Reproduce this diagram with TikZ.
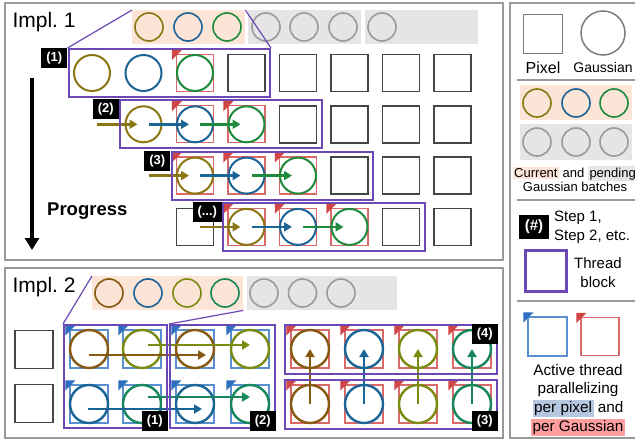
\documentclass[tikz,border=0pt]{standalone}
\usepackage{fontspec}
\setmainfont{Liberation Sans}
\usetikzlibrary{arrows.meta, positioning, fit}
\usepackage{xcolor}
\definecolor{oo}{HTML}{8A7714}
\definecolor{bb}{HTML}{1B6496}
\definecolor{gg}{HTML}{1E8B3C}
\definecolor{br}{HTML}{875A12}
\definecolor{ol}{HTML}{7B8B12}
\definecolor{tl}{HTML}{17865A}
\definecolor{pp}{HTML}{6C48B4}
\definecolor{rr}{HTML}{DA6A6A}
\definecolor{rf}{HTML}{D04545}
\definecolor{ll}{HTML}{5A8FCF}
\definecolor{lf}{HTML}{2E6FBF}
\definecolor{cbg}{HTML}{FCE4D6}
\definecolor{pbg}{HTML}{E5E5E5}
\definecolor{lb}{HTML}{B6C8E0}
\definecolor{lr}{HTML}{FF9F9F}
\definecolor{gc}{HTML}{9A9A9A}
\definecolor{pk}{HTML}{454545}
\definecolor{fr}{HTML}{999999}
\setlength{\fboxsep}{1.5pt}

\begin{document}
\begin{tikzpicture}[x=1pt, y=-1pt, font=\fontsize{14}{16}\selectfont,
    px/.style={draw=pk, line width=1.5, minimum size=37, inner sep=0},
    gs/.style={circle, draw=#1, line width=2, minimum size=36, inner sep=0},
    gb/.style={circle, draw=#1, line width=1.6, minimum size=28, inner sep=0},
    sq/.style={draw=#1, line width=1.2, minimum size=37, inner sep=0},
    bar/.style={fill=#1, minimum width=113, minimum height=34, inner sep=0, anchor=north west},
    tblk/.style={draw=pp, line width=2, inner xsep=23.5, inner ysep=24},
    lbl/.style={fill=black, text=white, font=\bfseries\fontsize{13}{13}\selectfont, minimum width=26, minimum height=20, inner sep=1},
    fw/.style={line width=2.5, -{Triangle[length=8pt, width=9pt]}},
    frame/.style={draw=fr, line width=2}]
  \useasboundingbox (0,0) rectangle (635,441);

  % panels
  \draw[frame] (5,3) rectangle (503,260);
  \draw[frame] (5,268) rectangle (503,438);
  \draw[frame] (640,3) -| (510,438) -- (640,438);

  % ---- Impl. 1 ----
  \node[anchor=base west, font=\fontsize{21}{21}\selectfont] (t1) at (9,28) {Impl.\ 1};
  \node[bar=cbg] (ob1) at (132,10) {};
  \node[bar=pbg] (gb1) at (248,10) {};
  \node[bar=pbg] (gb2) at (365,10) {};
  \foreach \x/\cl [count=\n] in {149/oo,188/bb,227/gg,266/gc,304/gc,343/gc,382/gc}
    \node[gb=\cl] (h\n) at (\x,27) {};

  \foreach \j in {1,...,4}
    \foreach \i in {0,...,7}
      \coordinate (g\j\i) at ({92+51.5*\i},{73+51.3*(\j-1)});

  \foreach \j/\i in {1/3,1/4,1/5,1/6,1/7,2/4,2/5,2/6,2/7,3/5,3/6,3/7,4/2,4/6,4/7}
    \node[px] (s\j\i) at (g\j\i) {};

  \foreach \j/\i in {1/2,2/2,2/3,3/2,3/3,3/4,4/3,4/4,4/5} {
    \node[sq=rr] (q\j\i) at (g\j\i) {};
    \fill[rf] ([shift={(-4,-4)}]q\j\i.north west) -- ++(10,0) -- ++(-10,10) -- cycle;
  }

  \foreach \j in {1,...,4}
    \foreach \k/\cl in {0/oo,1/bb,2/gg} {
      \pgfmathtruncatemacro{\i}{\j-1+\k}
      \pgfmathtruncatemacro{\h}{\i-1}
      \node[gs=\cl] (c\j\i) at (g\j\i) {};
      \ifnum\j>1
        \draw[fw, \cl] ([shift={(5,0)}]g\j\h) -- ([shift={(-6,0)}]c\j\i.center);
      \fi
    }

  \foreach \j in {1,...,4} {
    \pgfmathtruncatemacro{\a}{\j-1}
    \pgfmathtruncatemacro{\b}{\j+2}
    \node[tblk, fit=(g\j\a)(g\j\b)] (b\j) {};
  }
  \draw[pp, line width=1.2] (ob1.north west) -- (b1.north west);
  \draw[pp, line width=1.2] (ob1.north east) -- (b1.north east);

  \node[lbl, anchor=north east] (l1) at (b1.north west) {(1)};
  \node[lbl, anchor=north east] (l2) at (b2.north west) {(2)};
  \node[lbl, anchor=north east] (l3) at (b3.north west) {(3)};
  \node[lbl, anchor=north east, minimum width=29] (l4) at (b4.north west) {(...)};

  \coordinate (p0) at (32,78);
  \coordinate (p1) at (32,250);
  \draw[line width=4, -{Triangle[length=12pt, width=14pt]}] (p0) -- (p1);
  \node[anchor=west, inner sep=0, font=\bfseries\fontsize{18.5}{18.5}\selectfont] (prog) at (47,211) {Progress};

  % ---- Impl. 2 ----
  \node[anchor=base west, font=\fontsize{21}{21}\selectfont] (t2) at (9,292) {Impl.\ 2};
  \node[bar=cbg, minimum width=151] (ob2) at (92,276) {};
  \node[bar=pbg, minimum width=150] (gb3) at (247,276) {};
  \foreach \x/\cl [count=\n] in {109/br,148/bb,187/ol,225/tl,264/gc,302.5/gc,341/gc}
    \node[gb=\cl] (e\n) at (\x,293) {};

  \node[px, minimum size=38] (s51) at (34,349.5) {};
  \node[px, minimum size=38] (s52) at (34,403.5) {};

  \foreach \x [count=\i] in {89,142,195,250,310,364,418,472}
    \foreach \y [count=\r] in {349,404}
      \coordinate (m\r\i) at (\x,\y);

  \foreach \r in {1,2}
    \foreach \i in {1,...,8} {
      \ifnum\i<5 \def\sc{ll}\def\fc{lf}\else \def\sc{rr}\def\fc{rf}\fi
      \node[sq=\sc, minimum size=38] (n\r\i) at (m\r\i) {};
      \fill[\fc] ([shift={(-4,-4)}]n\r\i.north west) -- ++(10,0) -- ++(-10,10) -- cycle;
    }

  \foreach \r/\i/\cl in {1/1/br,1/2/ol,1/3/br,1/4/ol,2/1/bb,2/2/tl,2/3/bb,2/4/tl,
                         1/5/br,1/6/bb,1/7/ol,1/8/tl,2/5/br,2/6/bb,2/7/ol,2/8/tl}
    \node[gs=\cl, minimum size=38, line width=2.4] (k\r\i) at (m\r\i) {};

  \draw[fw, br] ([shift={(0,6)}]k11.center) -- ([shift={(11,6)}]k13.center);
  \draw[fw, ol] ([shift={(6,-4)}]k12.center) -- ([shift={(0,-4)}]k14.center);
  \draw[fw, bb] ([shift={(-1,5)}]k21.center) -- ([shift={(7,5)}]k23.center);
  \draw[fw, tl] ([shift={(6,-7)}]k22.center) -- ([shift={(0,-7)}]k24.center);
  \foreach \i/\cl in {5/br,6/bb,7/ol,8/tl}
    \draw[fw, \cl] (k2\i.center) -- (k1\i.center);

  \node[tblk, fit=(m11)(m22), inner xsep=25] (ka) {};
  \node[tblk, fit=(m13)(m24), inner xsep=25] (kb) {};
  \node[tblk, fit=(m15)(m18), inner xsep=25, inner ysep=24.5] (kd) {};
  \node[tblk, fit=(m25)(m28), inner xsep=25, inner ysep=24.5] (kc) {};
  \draw[pp, line width=1.2] (ob2.north west) -- (ka.north west);
  \draw[pp, line width=1.2] (ob2.south east) -- (kb.north west);

  \node[lbl, anchor=south east] (l5) at ([shift={(0,2)}]ka.south east) {(1)};
  \node[lbl, anchor=south east] (l6) at ([shift={(0,2)}]kb.south east) {(2)};
  \node[lbl, anchor=north east] (l7) at (kd.north east) {(4)};
  \node[lbl, anchor=south east] (l8) at ([shift={(0,2)}]kc.south east) {(3)};

  % ---- legend ----
  \node[px, draw=gc!80!black, minimum size=39] (lp) at (543,34) {};
  \node[gs=gc!80!black, line width=1.5, minimum size=44] (lg) at (603,33) {};
  \node[anchor=base, font=\fontsize{16}{16}\selectfont] (tp) at (543,74) {Pixel};
  \node[anchor=base] (tg) at (603,73) {Gaussian};
  \draw[fr, line width=1.2] (517,80) -- (640,80);

  \node[bar=cbg, minimum width=112, minimum height=35] (ob3) at (520,85) {};
  \node[bar=pbg, minimum width=112, minimum height=36] (gb4) at (520,124) {};
  \foreach \x/\cl [count=\n] in {537/oo,576/bb,614/gg}
    \node[gb=\cl] (f\n) at (\x,103) {};
  \foreach \x [count=\n] in {537,576,614}
    \node[gb=gc] (d\n) at (\x,142) {};
  \node[align=center, font=\fontsize{13}{14.5}\selectfont] (tb) at (575,179)
    {\colorbox{cbg}{Current} and \colorbox{pbg}{pending}\\Gaussian batches};
  \draw[fr, line width=1.2] (517,200) -- (640,200);

  \node[lbl, minimum width=30, minimum height=24, font=\bfseries\fontsize{15}{15}\selectfont] (lh) at (534,227) {(\#)};
  \node[anchor=west, align=left, inner sep=0, font=\fontsize{15}{19}\selectfont] (ts) at (554,227.5) {Step 1,\\Step 2, etc.};
  \node[draw=pp, line width=3, minimum size=41, inner sep=0] (lt) at (545.5,270.5) {};
  \node[align=center, font=\fontsize{15}{19}\selectfont] (tt) at (598,272.5) {Thread\\block};
  \draw[fr, line width=1.2] (517,301) -- (640,301);

  \node[sq=ll, minimum size=39] (lq1) at (547.5,336.5) {};
  \fill[lf] ([shift={(-4,-4)}]lq1.north west) -- ++(10,0) -- ++(-10,10) -- cycle;
  \node[sq=rr, minimum size=38] (lq2) at (600,336.5) {};
  \fill[rf] ([shift={(-4,-4)}]lq2.north west) -- ++(10,0) -- ++(-10,10) -- cycle;
  \node[align=center, font=\fontsize{15.3}{18.7}\selectfont] (ta) at (578,400)
    {Active thread\\parallelizing\\\colorbox{lb}{per pixel} and\\\colorbox{lr}{per Gaussian}};
\end{tikzpicture}
\end{document}
